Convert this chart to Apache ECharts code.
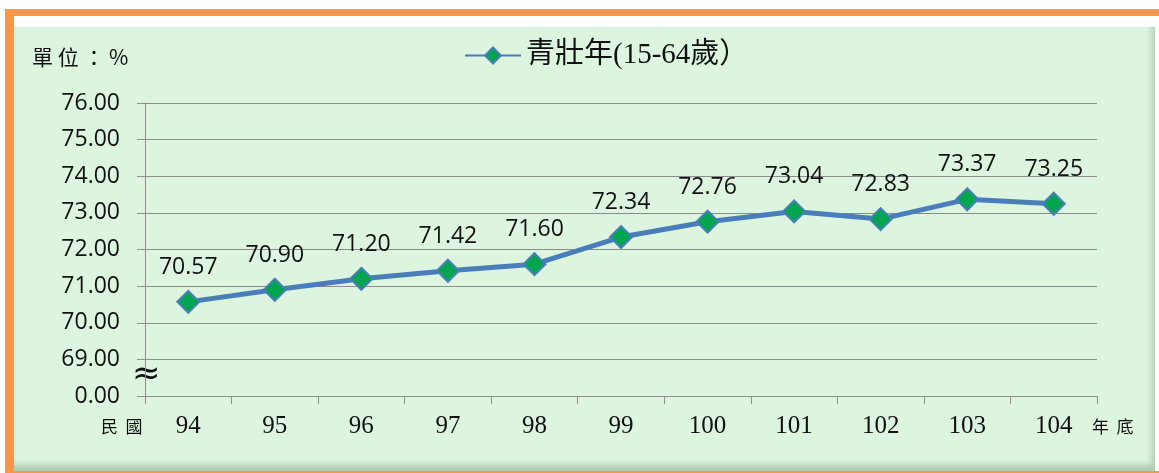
<!DOCTYPE html>
<html>
<head>
<meta charset="utf-8">
<script src="https://cdn.jsdelivr.net/npm/echarts@6/dist/echarts.min.js"></script>
<style>
  html,body{margin:0;padding:0;background:#fff;}
  #frame{position:absolute;left:5px;top:9px;width:1154px;height:464px;background:#f79646;}
  #inner{position:absolute;left:9px;top:7px;right:0;bottom:2px;background:#fff;}
  #chart{position:absolute;left:0;top:11px;right:4px;bottom:0;background:#ddf4df;
         box-shadow: inset -3px -6px 6px rgba(120,150,125,0.45);}
</style>
</head>
<body>
<div id="frame"><div id="inner"><div id="chart"></div></div></div>
<script>
// 資料
var years = ['94','95','96','97','98','99','100','101','102','103','104'];
var workingAge = [70.57, 70.90, 71.20, 71.42, 71.60, 72.34, 72.76, 73.04, 72.83, 73.37, 73.25];
var yTickLabels = ['0.00','69.00','70.00','71.00','72.00','73.00','74.00','75.00','76.00'];
var yMin = 68, yMax = 76;

var chart = echarts.init(document.getElementById('chart'));
// chart div sits at page (14,27)
var ox = 14, oy = 27;
var option = {
  animation: false,
  legend: {
    left: 459 - ox, top: 36 - oy,
    itemWidth: 56, itemHeight: 20, itemGap: 6,
    textStyle: {fontSize: 29, color: '#111', fontFamily: '"Liberation Serif","Noto Sans CJK TC"'},
    data: ['青壯年(15-64歲）']
  },
  grid: {left: 145 - ox, right: 58, top: 103 - oy, bottom: 75, containLabel: false},
  xAxis: {
    type: 'category',
    data: years,
    boundaryGap: true,
    axisLine: {lineStyle: {color: '#8c8c8c', width: 1}},
    axisTick: {show: true, length: 8, lineStyle: {color: '#8c8c8c'}},
    axisLabel: {fontSize: 25, color: '#111', margin: 18, fontFamily: '"Liberation Serif"'}
  },
  yAxis: {
    type: 'value',
    min: yMin, max: yMax, interval: 1,
    axisLine: {show: true, lineStyle: {color: '#8c8c8c', width: 1}},
    axisTick: {show: true, length: 8, lineStyle: {color: '#8c8c8c'}},
    splitLine: {lineStyle: {color: '#8c8c8c', width: 1}},
    axisLabel: {
      fontSize: 23, color: '#111', margin: 25, fontFamily: '"Open Sans"',
      formatter: function (v) { return yTickLabels[Math.round(v - yMin)]; }
    }
  },
  series: [{
    name: '青壯年(15-64歲）',
    type: 'line',
    data: workingAge,
    symbol: 'diamond',
    symbolSize: 22,
    lineStyle: {color: '#4a7ebb', width: 5},
    itemStyle: {color: '#00a550', borderColor: '#4a7ebb', borderWidth: 2},
    label: {
      show: true, position: 'top', distance: 11,
      fontSize: 23, color: '#111', fontFamily: '"Open Sans"',
      formatter: function (p) { return p.value.toFixed(2); }
    }
  }],
  graphic: [
    {type: 'text', left: 32 - ox, top: 47 - oy,
     style: {text: '單 位 ： %', font: '21px "Noto Sans CJK TC"', fill: '#111'}},
    {type: 'text', left: 101 - ox, top: 418 - oy,
     style: {text: '民  國', font: '17px "Noto Sans CJK TC"', fill: '#111'}},
    {type: 'text', left: 1092 - ox, top: 418 - oy,
     style: {text: '年  底', font: '17px "Noto Sans CJK TC"', fill: '#111'}},
    {type: 'rect', shape: {x: 140 - ox, y: 366 - oy, width: 10, height: 24},
     style: {fill: '#ddf4df'}},
    {type: 'text', left: 132 - ox, top: 358 - oy,
     style: {text: '≈', font: '34px "DejaVu Sans"', fill: '#111'}}
  ]
};
chart.setOption(option);
</script>
</body>
</html>
